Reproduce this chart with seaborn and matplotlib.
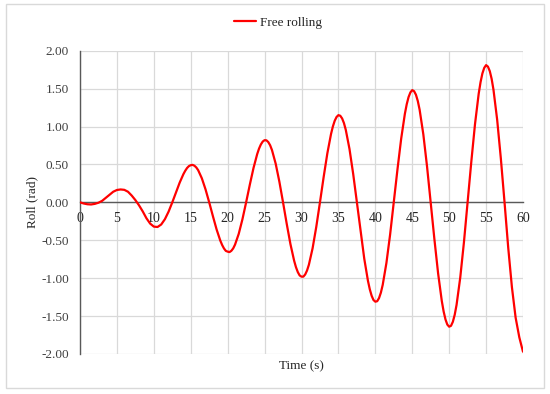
import numpy as np
import pandas as pd
import seaborn as sns
import matplotlib.pyplot as plt
from matplotlib.patches import Rectangle

# time axis (s), one reading every half second
time_s = [i * 0.5 for i in range(121)]

# roll angle (rad)
roll_rad = [
    0.000, -0.015, -0.025, -0.028, -0.020, -0.005, 0.020, 0.060, 0.100, 0.140,
    0.163, 0.170, 0.165, 0.140, 0.090, 0.030, -0.040, -0.120, -0.210, -0.280,
    -0.320, -0.325, -0.292, -0.222, -0.122, 0.000, 0.132, 0.260, 0.371, 0.453,
    0.490, 0.483, 0.425, 0.318, 0.172, 0.000, -0.182, -0.357, -0.504, -0.608,
    -0.650, -0.639, -0.557, -0.415, -0.223, 0.000, 0.233, 0.453, 0.637, 0.764,
    0.820, 0.795, 0.690, 0.511, 0.274, 0.000, -0.284, -0.550, -0.769, -0.920,
    -0.980, -0.951, -0.823, -0.607, -0.324, 0.000, 0.334, 0.646, 0.902, 1.076,
    1.150, 1.107, 0.955, 0.704, 0.375, 0.000, -0.385, -0.743, -1.035, -1.232,
    -1.310, -1.263, -1.088, -0.800, -0.426, 0.000, 0.436, 0.839, 1.167, 1.388,
    1.480, 1.419, 1.221, 0.897, 0.476, 0.000, -0.486, -0.935, -1.300, -1.544,
    -1.640, -1.575, -1.353, -0.993, -0.527, 0.000, 0.537, 1.032, 1.433, 1.700,
    1.810, 1.731, 1.486, 1.090, 0.578, 0.000, -0.600, -1.120, -1.520, -1.780,
    -1.970,
]

# extra readings around each crest and trough so the tops stay round
peak_time = [
    14.25, 14.75, 15.25, 15.75, 19.25, 19.75, 20.25, 20.75,
    24.25, 24.75, 25.25, 25.75, 29.25, 29.75, 30.25, 30.75,
    34.25, 34.75, 35.25, 35.75, 39.25, 39.75, 40.25, 40.75,
    44.25, 44.75, 45.25, 45.75, 49.25, 49.75, 50.25, 50.75,
    54.25, 54.75, 55.25, 55.75,
]
peak_roll = [
    0.416, 0.478, 0.494, 0.460, -0.562, -0.640, -0.656, -0.607,
    0.709, 0.802, 0.818, 0.753, -0.855, -0.964, -0.980, -0.899,
    1.001, 1.126, 1.142, 1.045, -1.147, -1.288, -1.304, -1.191,
    1.293, 1.450, 1.466, 1.337, -1.439, -1.612, -1.628, -1.483,
    1.585, 1.774, 1.790, 1.630,
]

series_name = "Free rolling"
x_ticks = list(range(0, 61, 5))
y_ticks = [-2.0, -1.5, -1.0, -0.5, 0.0, 0.5, 1.0, 1.5, 2.0]

df = pd.DataFrame({"Time": time_s + peak_time, "Roll": roll_rad + peak_roll})
df = df.sort_values("Time").reset_index(drop=True)
df["series"] = series_name

sns.set_style("white")
plt.rcParams['font.family'] = ['Liberation Serif', 'DejaVu Serif']
plt.rcParams['axes.unicode_minus'] = False

fig = plt.figure(figsize=(5.5, 3.94), dpi=100)
ax = fig.add_axes([80 / 550, 1 - 354 / 394, 443 / 550, 303.3 / 394])

sns.lineplot(data=df, x="Time", y="Roll", hue="series", palette=["#ff0000"],
             linewidth=1.6, ax=ax, legend=False, zorder=3, sort=False)

ax.set_xlim(0, 60)
ax.set_ylim(-2, 2)
ax.set_xticks(x_ticks)
ax.set_yticks(y_ticks)
ax.set_yticklabels([f"{v:.2f}" for v in y_ticks], fontsize=9.5, color="#404040")
ax.set_xticklabels([str(v) for v in x_ticks], fontsize=9.5, color="#404040")

ax.grid(True, color="#d9d9d9", linewidth=0.9)
ax.set_axisbelow(True)

# x axis drawn through zero, y axis on the left
for side in ["top", "right"]:
    ax.spines[side].set_visible(False)
ax.spines["bottom"].set_position(("data", 0))
ax.spines["bottom"].set_color("#595959")
ax.spines["left"].set_color("#595959")
ax.spines["bottom"].set_linewidth(1.0)
ax.spines["left"].set_linewidth(1.0)
ax.tick_params(axis="x", direction="inout", length=6, width=1, color="#595959", pad=4)
ax.tick_params(axis="y", direction="out", length=4, width=1, color="#595959", pad=4)

ax.set_xlabel("")
ax.set_ylabel("")
fig.text(301 / 550, 1 - 366 / 394, "Time (s)", ha="center", va="center",
         fontsize=9.5, color="#262626")
fig.text(32 / 550, 1 - 202 / 394, "Roll (rad)", ha="center", va="center",
         rotation=90, fontsize=9.5, color="#262626")

handles, labels = [plt.Line2D([], [], color="#ff0000", linewidth=1.6)], [series_name]
fig.legend(handles, labels, loc="center", bbox_to_anchor=(278 / 550, 1 - 23 / 394),
           frameon=False, fontsize=9.5, handlelength=1.7, handletextpad=0.3)

# light frame around the whole chart
fig.patches.append(Rectangle((6 / 550, 6 / 394), 538 / 550, 384 / 394,
                             transform=fig.transFigure, fill=False,
                             edgecolor="#d9d9d9", linewidth=1.0))

fig.savefig("out.png", dpi=100)
